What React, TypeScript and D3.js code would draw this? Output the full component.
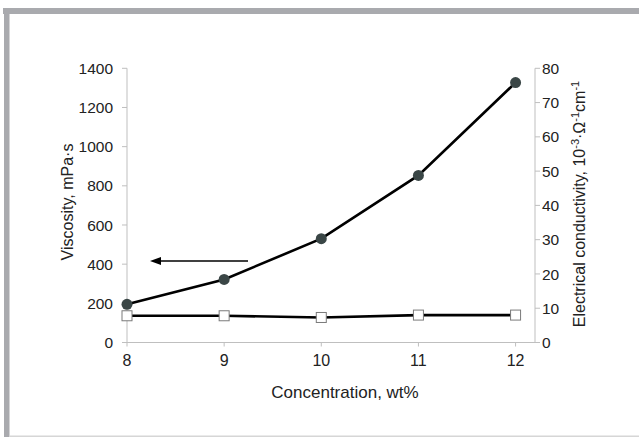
import React from "react";
import * as d3 from "d3";

const concentrations = [8, 9, 10, 11, 12];
const viscosity = [195, 322, 530, 853, 1327];
const conductivity = [7.8, 7.8, 7.3, 8.0, 8.0];
const xTicks = [8, 9, 10, 11, 12];
const leftTicks = [0, 200, 400, 600, 800, 1000, 1200, 1400];
const rightTicks = [0, 10, 20, 30, 40, 50, 60, 70, 80];

const W = 639;
const H = 437;
const FONT = "'Liberation Sans', Arial, sans-serif";

export default function App() {
  const x = d3.scaleLinear().domain([8, 12.2]).range([127, 535]);
  const yL = d3.scaleLinear().domain([0, 1400]).range([342.5, 68.3]);
  const yR = d3.scaleLinear().domain([0, 80]).range([342.5, 68.3]);
  const axisColor = "#bfbfbf";

  const viscLine = d3
    .line<number>()
    .x((_, i) => x(concentrations[i]))
    .y((d) => yL(d));
  const condLine = d3
    .line<number>()
    .x((_, i) => x(concentrations[i]))
    .y((d) => yR(d));

  const [x0, x1] = x.range();
  const [yb, yt] = yL.range();

  return (
    <svg
      width={W}
      height={H}
      style={{ position: "absolute", left: 0, top: 0, background: "#fff" }}
    >
      {/* frame */}
      <rect x={3} y={8} width={W - 3} height={6} fill="#a9aaae" />
      <rect x={4} y={8} width={5.5} height={H - 8} fill="#a9aaae" />
      <rect x={9.5} y={435.5} width={W - 9.5} height={1.5} fill="#d6d6d6" />

      {/* axes */}
      <line x1={x0} x2={x0} y1={yt} y2={yb} stroke={axisColor} strokeWidth={1} />
      <line x1={x1} x2={x1} y1={yt} y2={yb} stroke={axisColor} strokeWidth={1} />
      <line x1={x0} x2={x1} y1={yb} y2={yb} stroke={axisColor} strokeWidth={1} />

      {leftTicks.map((t) => (
        <g key={"l" + t}>
          <line x1={x0 - 5} x2={x0} y1={yL(t)} y2={yL(t)} stroke={axisColor} />
          <text
            x={113}
            y={yL(t)}
            dy="0.36em"
            textAnchor="end"
            fontFamily={FONT}
            fontSize={15.5}
            fill="#222"
          >
            {t}
          </text>
        </g>
      ))}
      {rightTicks.map((t) => (
        <g key={"r" + t}>
          <line x1={x1} x2={x1 + 5} y1={yR(t)} y2={yR(t)} stroke={axisColor} />
          <text
            x={542}
            y={yR(t)}
            dy="0.36em"
            textAnchor="start"
            fontFamily={FONT}
            fontSize={15.5}
            fill="#222"
          >
            {t}
          </text>
        </g>
      ))}
      {xTicks.map((t) => (
        <g key={"x" + t}>
          <line x1={x(t)} x2={x(t)} y1={yb} y2={yb + 4} stroke={axisColor} />
          <text
            x={x(t)}
            y={366}
            textAnchor="middle"
            fontFamily={FONT}
            fontSize={16}
            fill="#222"
          >
            {t}
          </text>
        </g>
      ))}

      {/* axis titles */}
      <text
        x={345}
        y={398}
        textAnchor="middle"
        fontFamily={FONT}
        fontSize={17}
        fill="#222"
      >
        Concentration, wt%
      </text>
      <text
        transform={`translate(73,202) rotate(-90)`}
        textAnchor="middle"
        fontFamily={FONT}
        fontSize={16}
        fill="#222"
      >
        Viscosity, mPa·s
      </text>
      <text
        transform={`translate(585,204) rotate(-90)`}
        textAnchor="middle"
        fontFamily={FONT}
        fontSize={16}
        fill="#222"
      >
        Electrical conductivity, 10
        <tspan fontSize={11} dy={-6}>-3</tspan>
        <tspan dy={6}>·Ω</tspan>
        <tspan fontSize={11} dy={-6}>-1</tspan>
        <tspan dy={6}>cm</tspan>
        <tspan fontSize={11} dy={-6}>-1</tspan>
      </text>

      {/* series lines */}
      <path d={condLine(conductivity) || ""} fill="none" stroke="#000" strokeWidth={2.6} />
      <path d={viscLine(viscosity) || ""} fill="none" stroke="#000" strokeWidth={2.6} />

      {conductivity.map((v, i) => (
        <rect
          key={"s" + i}
          x={x(concentrations[i]) - 5}
          y={yR(v) - 5}
          width={10}
          height={10}
          fill="#fff"
          stroke="#7a7a7a"
          strokeWidth={1}
        />
      ))}
      {viscosity.map((v, i) => (
        <circle
          key={"c" + i}
          cx={x(concentrations[i])}
          cy={yL(v)}
          r={5.5}
          fill="#3a4646"
        />
      ))}

      {/* arrow pointing to the left axis */}
      <line x1={248} y1={261} x2={158} y2={261} stroke="#000" strokeWidth={1.4} />
      <path d="M150,261 L161,257 L161,265 Z" fill="#000" />
    </svg>
  );
}
